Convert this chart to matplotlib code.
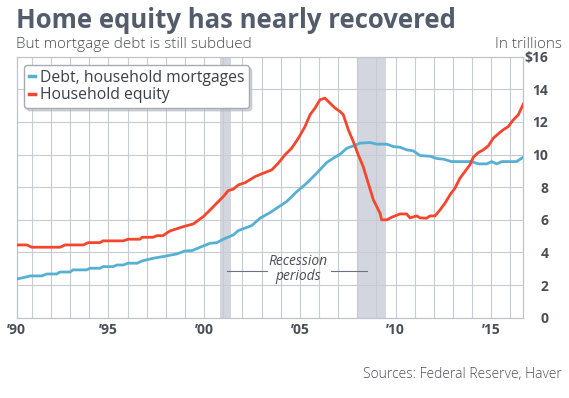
import numpy as np
import matplotlib.pyplot as plt
from matplotlib.lines import Line2D

# values, in trillions of dollars
equity_years = [1990.21, 1990.74, 1991.00, 1992.48, 1992.74, 1993.69, 1993.94, 1994.56,
                1994.72, 1995.77, 1996.03, 1996.65, 1996.76, 1997.33, 1997.54, 1997.85,
                1998.22, 1998.91, 1999.44, 1999.96, 2000.31, 2000.66, 2001.00, 2001.26,
                2001.52, 2001.79, 2002.14, 2002.66, 2003.01, 2003.53, 2003.87, 2004.22,
                2004.57, 2004.92, 2005.27, 2005.53, 2005.79, 2006.05, 2006.31, 2006.58,
                2006.84, 2007.10, 2007.27, 2007.53, 2007.79, 2008.05, 2008.31, 2008.57,
                2008.84, 2009.19, 2009.27, 2009.54, 2009.80, 2010.23, 2010.58, 2010.75,
                2011.10, 2011.28, 2011.62, 2011.80, 2012.06, 2012.32, 2012.58, 2012.84,
                2013.10, 2013.36, 2013.62, 2013.88, 2014.06, 2014.32, 2014.58, 2014.84,
                2015.10, 2015.36, 2015.62, 2015.89, 2016.15, 2016.41, 2016.67]
equity = [4.46, 4.46, 4.32, 4.32, 4.46, 4.46, 4.60, 4.60,
          4.71, 4.71, 4.81, 4.81, 4.93, 4.93, 5.03, 5.03,
          5.32, 5.58, 5.75, 6.20, 6.60, 7.02, 7.42, 7.79,
          7.88, 8.14, 8.28, 8.65, 8.82, 9.06, 9.47, 9.98,
          10.39, 11.00, 11.72, 12.44, 12.85, 13.36, 13.46, 13.15,
          12.85, 12.64, 12.44, 11.52, 10.80, 9.98, 9.26, 8.25,
          7.22, 6.40, 6.00, 6.00, 6.16, 6.36, 6.36, 6.12,
          6.24, 6.12, 6.10, 6.24, 6.24, 6.61, 7.02, 7.53,
          7.94, 8.55, 8.96, 9.37, 9.84, 10.12, 10.29, 10.53,
          11.00, 11.27, 11.52, 11.72, 12.13, 12.44, 13.10]

debt_years = [1990.21, 1990.65, 1990.91, 1991.52, 1991.78, 1992.30, 1992.48, 1993.00,
              1993.15, 1993.87, 1994.04, 1994.56, 1994.72, 1995.24, 1995.45, 1995.77,
              1996.03, 1996.50, 1996.76, 1997.33, 1998.06, 1998.58, 1999.00, 1999.37,
              1999.79, 2000.31, 2000.66, 2001.00, 2001.52, 2001.79, 2002.49, 2002.92,
              2003.44, 2003.96, 2004.31, 2004.84, 2005.36, 2005.88, 2006.40, 2006.75,
              2007.10, 2007.45, 2007.79, 2008.14, 2008.66, 2009.01, 2009.54, 2009.88,
              2010.23, 2010.58, 2010.92, 2011.28, 2011.80, 2012.15, 2012.49, 2012.93,
              2013.54, 2013.97, 2014.32, 2014.76, 2015.02, 2015.28, 2015.54, 2016.32,
              2016.67]
debt = [2.37, 2.48, 2.56, 2.56, 2.68, 2.68, 2.80, 2.80,
        2.93, 2.93, 3.03, 3.03, 3.13, 3.13, 3.23, 3.23,
        3.34, 3.34, 3.48, 3.64, 3.79, 3.91, 4.09, 4.11,
        4.32, 4.56, 4.60, 4.81, 5.07, 5.34, 5.65, 6.10,
        6.44, 6.85, 7.12, 7.73, 8.25, 8.86, 9.51, 9.78,
        10.02, 10.39, 10.53, 10.70, 10.74, 10.64, 10.64, 10.49,
        10.45, 10.29, 10.23, 9.94, 9.90, 9.76, 9.72, 9.57,
        9.57, 9.57, 9.43, 9.43, 9.57, 9.43, 9.57, 9.57,
        9.84]

recessions = [(2000.83, 2001.40), (2007.97, 2009.50)]

x_ticks = [1990.21, 1995, 2000, 2005, 2010, 2015]
x_labels = ["\u201990", "\u201995", "\u201900", "\u201905", "\u201910", "\u201915"]
y_ticks = [0, 2, 4, 6, 8, 10, 12, 14, 16]
y_labels = ["0", "2", "4", "6", "8", "10", "12", "14", "$16"]

RED = "#f4452d"
BLUE = "#55b0d3"
TITLE_GREY = "#525c6b"
TEXT_GREY = "#4a4f57"
GRID = "#c6cbd3"

plt.rcParams['font.family'] = ['Open Sans', 'DejaVu Sans']

fig = plt.figure(figsize=(5.69, 3.98), dpi=100)
ax = fig.add_axes([0.0293, 0.2018, 0.8904, 0.6557])

for start, end in recessions:
    ax.axvspan(start, end, color="#d3d6de", lw=0, zorder=0)

# grid drawn by hand: one line a year, one every $2 trillion
for yr in range(1991, 2017):
    ax.axvline(yr, color=GRID, lw=0.8, zorder=1)
for v in y_ticks[1:-1]:
    ax.axhline(v, color=GRID, lw=0.8, zorder=1)

ax.plot(debt_years, debt, color=BLUE, lw=2.0, zorder=3, solid_joinstyle='round')
ax.plot(equity_years, equity, color=RED, lw=2.0, zorder=3, solid_joinstyle='round')

ax.set_xlim(1990.21, 2016.67)
ax.set_ylim(0, 16)

ax.set_xticks(x_ticks)
ax.set_xticklabels(x_labels)
ax.set_yticks(y_ticks)
ax.set_yticklabels(y_labels)

ax.yaxis.tick_right()
ax.tick_params(axis='both', which='both', length=0)
ax.tick_params(axis='y', pad=18, labelsize=10, labelcolor=TEXT_GREY)
ax.tick_params(axis='x', pad=4, labelsize=10, labelcolor=TEXT_GREY)
for lab in ax.get_yticklabels():
    lab.set_horizontalalignment('right')
    lab.set_fontweight('bold')
for lab in ax.get_xticklabels():
    lab.set_fontweight('bold')

for side in ['left', 'right', 'top', 'bottom']:
    ax.spines[side].set_color("#bfc3cb")
    ax.spines[side].set_linewidth(0.9)

# recession note
ax.text(2004.9, 3.42, "Recession", style='italic', fontsize=10, color=TEXT_GREY,
        ha='center', va='center')
ax.text(2004.9, 2.52, "periods", style='italic', fontsize=10, color=TEXT_GREY,
        ha='center', va='center')
ax.plot([2001.2, 2003.28], [2.87, 2.87], color="#6b7280", lw=0.8, zorder=4)
ax.plot([2006.63, 2008.51], [2.87, 2.87], color="#6b7280", lw=0.8, zorder=4)

handles = [Line2D([0], [0], color=BLUE, lw=2.5),
           Line2D([0], [0], color=RED, lw=2.5)]
leg = ax.legend(handles, ["Debt, household mortgages", "Household equity"],
                loc='upper left', bbox_to_anchor=(0.0144, 0.968), borderaxespad=0,
                fontsize=11.3, handlelength=0.4, handletextpad=0.3, labelspacing=0.1,
                borderpad=0.3, fancybox=True, framealpha=1,
                shadow={'color': '#b5b9c0', 'alpha': 0.6})
leg.get_frame().set_edgecolor("#a5aab3")
leg.get_frame().set_linewidth(1.0)
for t in leg.get_texts():
    t.set_color("#3c4048")

fig.text(16.5 / 569, 1 - 20 / 398, "Home equity has nearly recovered", fontsize=18.5,
         fontweight='bold', color=TITLE_GREY, ha='left', va='center')
fig.text(16.5 / 569, 1 - 45 / 398, "But mortgage debt is still subdued", fontsize=11,
         fontweight='light', color=TEXT_GREY, ha='left', va='center')
fig.text(562 / 569, 1 - 45 / 398, "In trillions", fontsize=11,
         fontweight='light', color=TEXT_GREY, ha='right', va='center')
fig.text(562 / 569, 1 - 374 / 398, "Sources: Federal Reserve, Haver", fontsize=10,
         fontweight='light', color=TEXT_GREY, ha='right', va='center')

fig.savefig("out.png", dpi=100, facecolor='white')
